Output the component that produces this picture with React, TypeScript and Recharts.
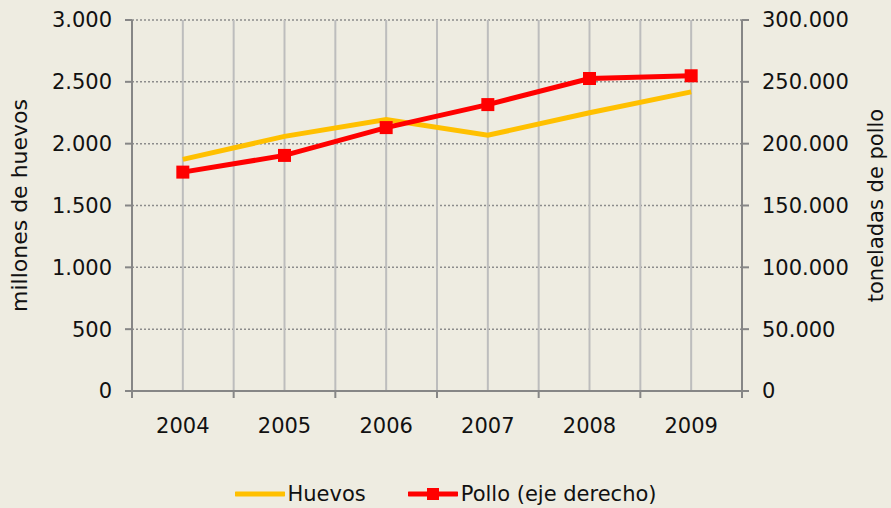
import React from 'react';
import {
  ComposedChart,
  Line,
  XAxis,
  YAxis,
  CartesianGrid,
  Legend,
} from 'recharts';

const years = ['2004', '2005', '2006', '2007', '2008', '2009'];
const huevos = [1873, 2059, 2195, 2068, 2250, 2419];
const pollo = [177000, 190500, 213000, 231600, 252700, 254900];
const leftTicks = [0, 500, 1000, 1500, 2000, 2500, 3000];
const rightTicks = [0, 50000, 100000, 150000, 200000, 250000, 300000];

const data = years.map((year, i) => ({ year, huevos: huevos[i], pollo: pollo[i] }));

const W = 891;
const H = 508;
const LEFT_W = 132;
const RIGHT_W = 149;
const BAND = (W - LEFT_W - RIGHT_W) / years.length;

const FONT = '"DejaVu Sans", Verdana, sans-serif';
const BG = '#EEECE1';
const AXIS = '#868686';
const YELLOW = '#FFC000';
const RED = '#FF0000';

const fmt = (n: number) => String(n).replace(/\B(?=(\d{3})+(?!\d))/g, '.');

const XTick = (props: any) => {
  const { x, y, payload, index } = props;
  const last = index === years.length - 1;
  return (
    <g>
      <line x1={x - BAND / 2} x2={x - BAND / 2} y1={y} y2={y + 7} stroke={AXIS} strokeWidth={2} />
      {last && <line x1={x + BAND / 2} x2={x + BAND / 2} y1={y} y2={y + 7} stroke={AXIS} strokeWidth={2} />}
      <text x={x} y={y + 42} textAnchor="middle" fontSize={21} fontFamily={FONT} fill="#111">
        {payload.value}
      </text>
    </g>
  );
};

const LegendContent = () => (
  <div style={{ display: 'flex', justifyContent: 'center', fontFamily: FONT, fontSize: 21, color: '#111' }}>
    <div style={{ display: 'flex', alignItems: 'center', marginRight: 42 }}>
      <svg width={50} height={14}>
        <line x1={1} x2={49} y1={7} y2={7} stroke={YELLOW} strokeWidth={5} strokeLinecap="round" />
      </svg>
      <span style={{ marginLeft: 3 }}>Huevos</span>
    </div>
    <div style={{ display: 'flex', alignItems: 'center' }}>
      <svg width={50} height={14}>
        <line x1={1} x2={49} y1={7} y2={7} stroke={RED} strokeWidth={5} strokeLinecap="round" />
        <rect x={19} y={1} width={12} height={12} fill={RED} />
      </svg>
      <span style={{ marginLeft: 3 }}>Pollo (eje derecho)</span>
    </div>
  </div>
);

const SquareDot = (props: any) => {
  const { cx, cy } = props;
  if (cx == null || cy == null) return null;
  return <rect x={cx - 6.5} y={cy - 6.5} width={13} height={13} fill={RED} />;
};

const App: React.FC = () => {
  return (
    <div style={{ position: 'absolute', left: 0, top: 0, width: W, height: H, background: BG }}>
      <ComposedChart width={W} height={H} data={data} margin={{ top: 20, right: 0, left: 0, bottom: 0 }}>
        <CartesianGrid
          yAxisId="left"
          vertical={false}
          stroke="#8c8c8c"
          strokeDasharray="2 2"
          strokeWidth={1.5}
        />
        <CartesianGrid
          yAxisId="left"
          horizontal={false}
          stroke="#bdbdbd"
          strokeWidth={2}
          verticalCoordinatesGenerator={({ offset }: any) =>
            Array.from({ length: years.length * 2 - 1 }, (_, i) => offset.left + ((i + 1) * offset.width) / (years.length * 2))
          }
        />
        <XAxis
          dataKey="year"
          scale="band"
          axisLine={{ stroke: AXIS, strokeWidth: 2 }}
          tickLine={false}
          tickSize={0}
          tickMargin={0}
          tick={<XTick />}
          height={93}
          interval={0}
        />
        <YAxis
          yAxisId="left"
          width={LEFT_W}
          domain={[0, 3000]}
          ticks={leftTicks}
          tickFormatter={fmt}
          axisLine={{ stroke: AXIS, strokeWidth: 2 }}
          tickLine={{ stroke: AXIS, strokeWidth: 2 }}
          tickSize={7}
          tickMargin={13}
          tick={{ fontSize: 21, fontFamily: FONT, fill: '#111' }}
          label={{
            value: 'millones de huevos',
            angle: -90,
            position: 'insideLeft',
            dx: 14,
            style: { fontSize: 22, fontFamily: FONT, fill: '#111', textAnchor: 'middle' },
          }}
        />
        <YAxis
          yAxisId="right"
          orientation="right"
          width={RIGHT_W}
          domain={[0, 300000]}
          ticks={rightTicks}
          tickFormatter={fmt}
          axisLine={{ stroke: AXIS, strokeWidth: 2 }}
          tickLine={{ stroke: AXIS, strokeWidth: 2 }}
          tickSize={7}
          tickMargin={13}
          tick={{ fontSize: 21, fontFamily: FONT, fill: '#111' }}
          label={{
            value: 'toneladas de pollo',
            angle: -90,
            position: 'insideRight',
            dx: -10,
            style: { fontSize: 21, fontFamily: FONT, fill: '#111', textAnchor: 'middle' },
          }}
        />
        <Line
          yAxisId="left"
          type="linear"
          dataKey="huevos"
          name="Huevos"
          stroke={YELLOW}
          strokeWidth={5}
          dot={false}
          isAnimationActive={false}
        />
        <Line
          yAxisId="right"
          type="linear"
          dataKey="pollo"
          name="Pollo (eje derecho)"
          stroke={RED}
          strokeWidth={5}
          dot={<SquareDot />}
          isAnimationActive={false}
        />
        <Legend
          verticalAlign="bottom"
          content={<LegendContent />}
          wrapperStyle={{ bottom: 2, left: 0, width: W }}
        />
      </ComposedChart>
    </div>
  );
};

export default App;
